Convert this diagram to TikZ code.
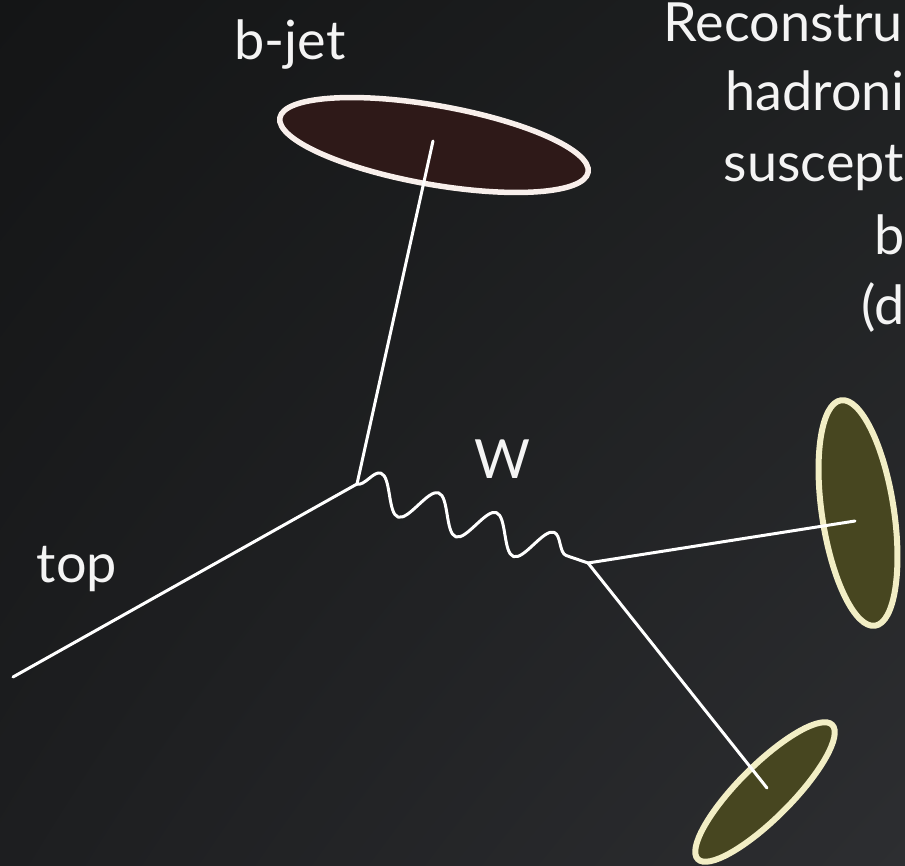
\documentclass[tikz,border=0pt]{standalone}
\usepackage{fontspec}
\setmainfont{Lato}
\usetikzlibrary{shapes.geometric,decorations.pathmorphing,shadings}

\definecolor{bgTL}{HTML}{141516}
\definecolor{bgTR}{HTML}{1E2021}
\definecolor{bgBL}{HTML}{1D1E20}
\definecolor{bgBR}{HTML}{2D2E31}
\definecolor{jetfill}{HTML}{2E1918}
\definecolor{jetrim}{HTML}{F8EFEB}
\definecolor{qfill}{HTML}{474620}
\definecolor{qrim}{HTML}{F2EEC5}
\definecolor{ink}{HTML}{F4F4F4}

\tikzset{
  label text/.style={text=ink, inner sep=0pt, font=\fontsize{54}{72}\selectfont},
  particle/.style={draw=white, line width=3pt, line cap=round, line join=round},
  bjetblob/.style={ellipse, draw=jetrim, fill=jetfill, line width=5.5pt, inner sep=0pt},
  quarkblob/.style={ellipse, draw=qrim, fill=qfill, line width=6pt, inner sep=0pt},
  wboson/.style={particle, decorate,
    decoration={snake, segment length=61pt, amplitude=18pt}},
}

\begin{document}
\begin{tikzpicture}[x=1pt, y=-1pt]
  % page frame and dark diagonal backdrop
  \useasboundingbox (0,0) rectangle (905,866);
  \clip (0,0) rectangle (905,866);
  \shade[upper left=bgTL, upper right=bgTR, lower left=bgBL, lower right=bgBR]
    (0,0) rectangle (905,866);

  % jets
  \node[bjetblob, minimum width=313pt, minimum height=79pt, rotate=-10]
    (bjet) at (434,145) {};
  \node[quarkblob, minimum width=228pt, minimum height=72pt, rotate=98.6]
    (q1) at (858,513) {};
  \node[quarkblob, minimum width=190pt, minimum height=53pt, rotate=45]
    (q2) at (765,792) {};

  % vertices and line ends
  \coordinate (tin) at (13,677);
  \coordinate (v1)  at (357,484);
  \coordinate (v2)  at (588,563);
  \coordinate (bend) at (433,141);
  \coordinate (q1end) at (855,521);
  \coordinate (q2end) at (767,788);

  % particle lines
  \draw[particle] (tin) -- (v1);
  \draw[particle] (v1) -- (bend);
  \draw[wboson] (v1) -- (v2);
  \draw[particle] (v2) -- (q1end);
  \draw[particle] (v2) -- (q2end);

  % labels
  \node[label text, anchor=base] (lbj) at (290,60) {b-jet};
  \node[label text, anchor=base] (ltop) at (77,582) {top};
  \node[label text, anchor=base] (lw) at (502,478) {W};

  \node[label text, anchor=base east] (t1) at (903,42)  {Reconstru};
  \node[label text, anchor=base east] (t2) at (905,111) {hadroni};
  \node[label text, anchor=base east] (t3) at (904,182) {suscept};
  \node[label text, anchor=base east] (t4) at (905,255) {b};
  \node[label text, anchor=base east] (t5) at (905,325) {(d};
\end{tikzpicture}
\end{document}
